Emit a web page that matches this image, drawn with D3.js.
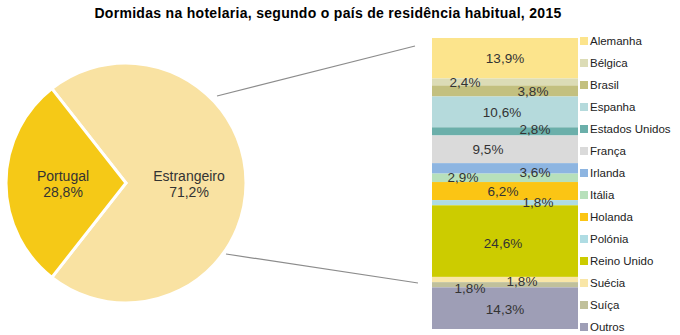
<!DOCTYPE html>
<html><head><meta charset="utf-8">
<script src="https://cdn.jsdelivr.net/npm/d3@7"></script>
<style>
html,body{margin:0;padding:0;background:#fff;}
svg{display:block;font-family:"Liberation Sans",Arial,sans-serif;}
</style></head>
<body>
<svg id="c" width="680" height="335"></svg>
<script>
// ---- data ----
const title = "Dormidas na hotelaria, segundo o país de residência habitual, 2015";
const pieCategories = ["Estrangeiro", "Portugal"];
const pieValues = [71.2, 28.8];
const barCategories = ["Alemanha","Bélgica","Brasil","Espanha","Estados Unidos","França","Irlanda","Itália","Holanda","Polónia","Reino Unido","Suécia","Suíça","Outros"];
const barValues = [13.9, 2.4, 3.8, 10.6, 2.8, 9.5, 3.6, 2.9, 6.2, 1.8, 24.6, 1.8, 1.8, 14.3];

// ---- styling / layout (not data) ----
const pieColors = ["#F9E2A2", "#F5C917"];
const barColors = ["#FCE48C","#DCDCB6","#C3C07F","#B5DADC","#6BAFAA","#DADADA","#8DB5E1","#B7E0BB","#FBC514","#AFDCE3","#CCCC00","#F9E6A7","#C0C09B","#9E9EB6"];
const labelDx = [0,-40,28,-3,30,-17,30,-42,-2,33,-2,17,-35,0];
const labelDy = [0,0,0,0,-2,0,4,-1,0,-1,2,2,3,1];

const svg = d3.select("#c");
const fmt = v => d3.format(".1f")(v).replace(".", ",") + "%";

svg.append("text").attr("x", 328).attr("y", 18).attr("text-anchor", "middle")
  .attr("font-weight", "bold").attr("font-size", 14).attr("letter-spacing", 0.3)
  .attr("fill", "#000").text(title);

// ---- pie ----
const cx = 126, cy = 183, R = 120;
const ptFrac = pieValues[1] / d3.sum(pieValues);
const start = 1.5 * Math.PI + ptFrac * Math.PI; // Portugal centred on the left
const pie = d3.pie().sort(null).startAngle(start).endAngle(start + 2 * Math.PI);
const arcs = pie(pieValues);
const arc = d3.arc().innerRadius(0).outerRadius(R);
const g = svg.append("g").attr("transform", `translate(${cx},${cy})`);
g.selectAll("path").data(arcs).join("path")
  .attr("d", arc).attr("fill", (d, i) => pieColors[i])
  .attr("stroke", "#fff").attr("stroke-width", 3).attr("stroke-linejoin", "miter");

arcs.forEach((d, i) => {
  const lx = [63, -63][i];
  const t = g.append("text").attr("text-anchor", "middle").attr("font-size", 14).attr("fill", "#333");
  t.append("tspan").attr("x", lx).attr("y", -2).text(pieCategories[i]);
  t.append("tspan").attr("x", lx).attr("y", 14).text(fmt(pieValues[i]));
});

// ---- stacked bar ----
const x0 = 432, x1 = 578;
const y = d3.scaleLinear().domain([0, 100]).range([38, 329]);
let acc = 0;
const segs = barValues.map((v, i) => { const s = {i, v, a: acc, b: acc + v}; acc += v; return s; });
const bg = svg.append("g");
bg.selectAll("rect").data(segs).join("rect")
  .attr("x", x0).attr("width", x1 - x0)
  .attr("y", d => y(d.a)).attr("height", d => y(d.b) - y(d.a))
  .attr("fill", d => barColors[d.i]);
const bc = (x0 + x1) / 2;
bg.selectAll("text").data(segs).join("text")
  .attr("x", d => bc + labelDx[d.i])
  .attr("y", d => (y(d.a) + y(d.b)) / 2 + labelDy[d.i] + 4.8)
  .attr("text-anchor", "middle").attr("font-size", 13.5).attr("fill", "#333")
  .text(d => fmt(d.v));

// ---- connector lines ----
svg.append("line").attr("x1", 217).attr("y1", 96).attr("x2", 415).attr("y2", y(0) + 8)
  .attr("stroke", "#8c8c8c").attr("stroke-width", 1.2);
svg.append("line").attr("x1", 226).attr("y1", 254).attr("x2", 418).attr("y2", y(100) - 46)
  .attr("stroke", "#8c8c8c").attr("stroke-width", 1.2);

// ---- legend ----
const ly = d3.scalePoint().domain(barCategories).range([41, 327]);
const lg = svg.append("g");
lg.selectAll("rect").data(barCategories).join("rect")
  .attr("x", 580).attr("y", d => ly(d) - 4).attr("width", 8).attr("height", 8)
  .attr("fill", (d, i) => barColors[i]);
lg.selectAll("text").data(barCategories).join("text")
  .attr("x", 590).attr("y", d => ly(d) + 4).attr("font-size", 11.5).attr("fill", "#222")
  .text(d => d);
</script>
</body></html>
